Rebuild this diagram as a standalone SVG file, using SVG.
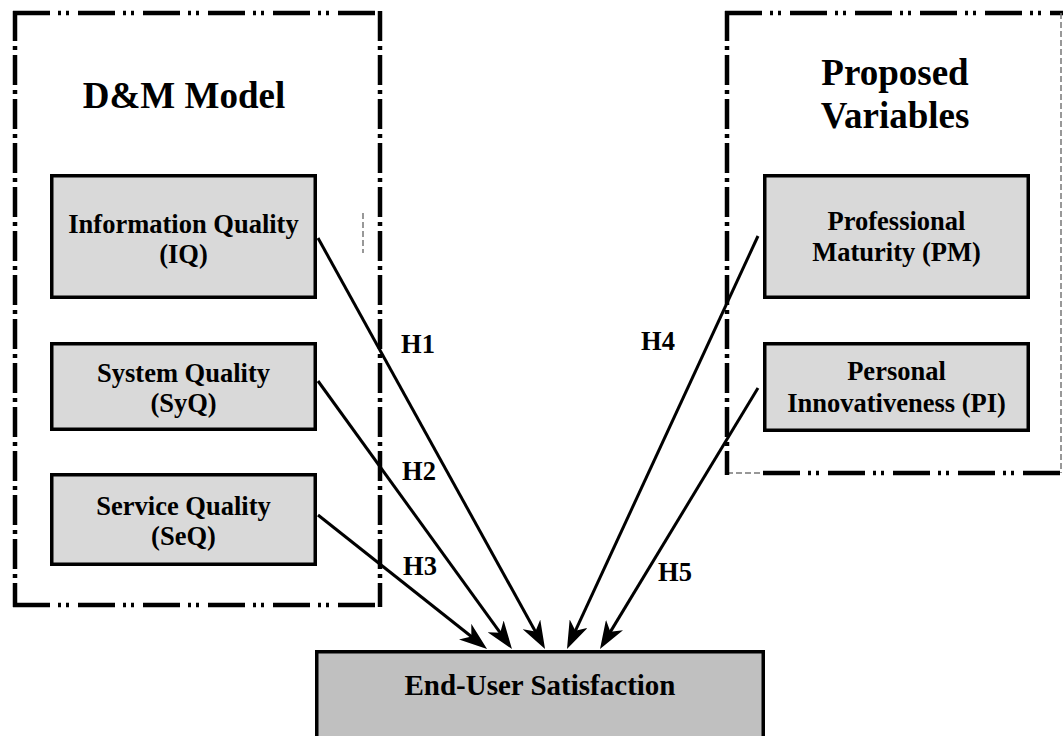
<svg xmlns="http://www.w3.org/2000/svg" width="1063" height="736" viewBox="0 0 1063 736">
<style>
text{font-family:"Liberation Serif","Times New Roman",serif;font-weight:bold;fill:#000;text-anchor:middle}
.frameH{fill:none;stroke:#000;stroke-width:4.5;stroke-dasharray:37 8 3 5 3 9}
.frameV{fill:none;stroke:#000;stroke-width:4.5;stroke-dasharray:30 5 4 5}
.thin{fill:none;stroke:#777;stroke-width:1.5;stroke-dasharray:6 3}
.box{fill:#d9d9d9;stroke:#000;stroke-width:3.5}
.main{fill:#c0c0c0;stroke:#000;stroke-width:3.5}
.lbl{font-size:26.5px}
.title{font-size:37px}
.conn{fill:none;stroke:#000;stroke-width:3;marker-end:url(#ah)}
</style>
<defs>
<marker id="ah" markerUnits="userSpaceOnUse" markerWidth="28" markerHeight="20" viewBox="0 0 28 20" refX="18" refY="10" orient="auto">
<path d="M0,0 L28,10 L0,20 L8,10 Z" fill="#000"/>
</marker>
</defs>
<rect width="1063" height="736" fill="#fff"/>
<g id="dm-frame">
<path class="frameH" d="M13,13 H382 M13,605 H382"/>
<path class="frameV" d="M15,11 V607 M380,11 V607"/>
<path class="thin" d="M363,213 V253"/>
<text class="title" x="184" y="108">D&amp;M Model</text>
</g>
<g id="pv-frame">
<path class="frameH" d="M725,13 H1063"/>
<path class="thin" d="M727,473 H763"/>
<path class="frameH" d="M763,473 H1063"/>
<path class="frameV" d="M727,11 V475"/>
<path class="thin" d="M1061,13 V473"/>
<text class="title" x="895" y="85">Proposed</text>
<text class="title" x="895" y="128">Variables</text>
</g>
<g id="iq">
<rect class="box" x="51.75" y="175.75" width="263.5" height="121.5"/>
<text class="lbl" x="183.5" y="233">Information Quality</text>
<text class="lbl" x="183.5" y="263">(IQ)</text>
</g>
<g id="syq">
<rect class="box" x="51.75" y="343.75" width="263.5" height="85.5"/>
<text class="lbl" x="183.5" y="382">System Quality</text>
<text class="lbl" x="183.5" y="412">(SyQ)</text>
</g>
<g id="seq">
<rect class="box" x="51.75" y="474.75" width="263.5" height="89.5"/>
<text class="lbl" x="183.5" y="515">Service Quality</text>
<text class="lbl" x="183.5" y="545">(SeQ)</text>
</g>
<g id="pm">
<rect class="box" x="764.75" y="175.75" width="263.5" height="121.5"/>
<text class="lbl" x="896.5" y="230">Professional</text>
<text class="lbl" x="896.5" y="261">Maturity (PM)</text>
</g>
<g id="pi">
<rect class="box" x="764.75" y="343.75" width="263.5" height="86.5"/>
<text class="lbl" x="896.5" y="380">Personal</text>
<text class="lbl" x="896.5" y="412">Innovativeness (PI)</text>
</g>
<g id="eus">
<rect class="main" x="316.75" y="651.75" width="446.5" height="100"/>
<text x="540" y="695" style="font-size:29px">End-User Satisfaction</text>
</g>
<g id="connectors">
<path class="conn" d="M318,238 L540.2,640.2"/>
<path class="conn" d="M318,381 L506.1,640.9"/>
<path class="conn" d="M318,515 L479.2,642.8"/>
<path class="conn" d="M758,236 L571.2,639.9"/>
<path class="conn" d="M758,388 L605.2,640.4"/>
<text class="lbl" x="418" y="353">H1</text>
<text class="lbl" x="419" y="480">H2</text>
<text class="lbl" x="420" y="575">H3</text>
<text class="lbl" x="658" y="350">H4</text>
<text class="lbl" x="675" y="581">H5</text>
</g>
</svg>
